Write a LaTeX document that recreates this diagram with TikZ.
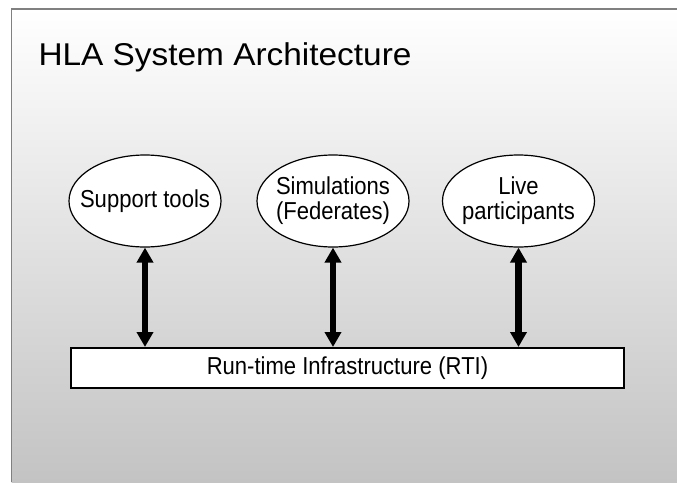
\documentclass[tikz,border=0pt]{standalone}
\usepackage{fontspec}
\setmainfont{Liberation Sans}
\newfontfamily\slidenarrow[FakeStretch=0.9]{Liberation Sans}
\newfontfamily\slidewide[FakeStretch=1.06]{Liberation Sans}
\usetikzlibrary{shapes.geometric, arrows.meta, positioning, calc}
\definecolor{framegray}{RGB}{128, 128, 128}
\definecolor{slidebottom}{RGB}{195, 195, 195}
\tikzset{
    part node/.style={
        ellipse,
        draw=black,
        line width=1.2pt,
        fill=white,
        minimum width=152pt,
        minimum height=92pt,
        inner xsep=-20pt,
        inner ysep=0pt,
        align=center,
        font=\slidenarrow\fontsize{24.5}{25}\selectfont
    },
    rti box/.style={
        rectangle,
        draw=black,
        line width=2pt,
        fill=white,
        minimum width=553pt,
        minimum height=40pt,
        font=\slidenarrow\fontsize{24.5}{25}\selectfont
    },
    link arrow/.style={
        {Triangle[width=16pt, length=15pt]}-{Triangle[width=16pt, length=15pt]},
        line width=6.5pt,
        draw=black
    }
}

\begin{document}
\begin{tikzpicture}[
    x=1pt, y=-1pt,
    slide title/.style={anchor=base west, font=\slidewide\fontsize{31.5}{40}\selectfont}
]
\useasboundingbox (0, 0) rectangle (677, 482);

% Slide background
\fill[top color=white, bottom color=slidebottom] (11.7, 9) rectangle (677, 482);
\draw[framegray, line width=1.5pt] (11.7, 482) -- (11.7, 9) -- (677, 9);

% Title
\node[slide title] (title) at (35, 65) {HLA System Architecture};

% === PARTICIPANTS ===
\node[part node] (tools) at (145, 201) {Support tools};
\node[part node] (sims) at (333, 201) {Simulations\\(Federates)};
\node[part node] (live) at (518.5, 201) {Live\\participants};

% === RTI ===
\node[rti box] (rti) at (347.5, 368) {Run-time Infrastructure (RTI)};

% Links
\draw[link arrow] (tools.south) -- (tools.south |- rti.north);
\draw[link arrow] (sims.south) -- (sims.south |- rti.north);
\draw[link arrow] (live.south) -- (live.south |- rti.north);

\end{tikzpicture}
\end{document}
